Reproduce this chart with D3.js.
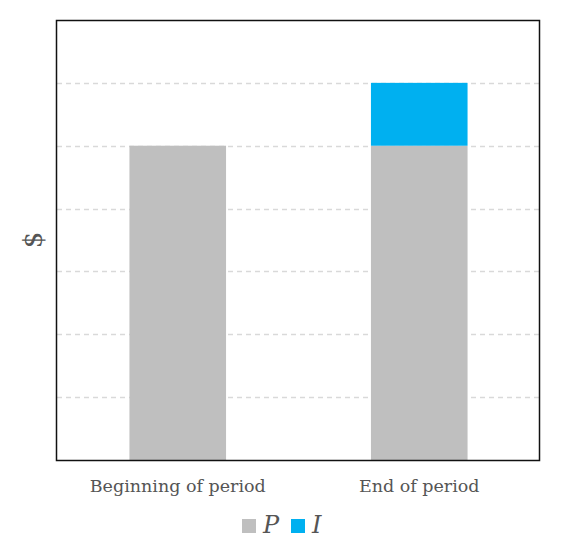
<!DOCTYPE html>
<html>
<head>
<meta charset="utf-8">
<script src="https://cdn.jsdelivr.net/npm/d3@7"></script>
<style>
  body { margin: 0; background: #fff; }
  text { font-family: "DejaVu Serif", Georgia, serif; fill: #555; }
</style>
</head>
<body>
<svg id="chart"></svg>
<script>
// Categories and stacked values (arbitrary units, axis has no tick labels)
const categories = ['Beginning of period', 'End of period'];
const principal = [5, 5];
const interest = [0, 1];
const yTicks = [1, 2, 3, 4, 5, 6];
const seriesNames = ['P', 'I'];
const colors = ['#bfbfbf', '#00b0f0'];

const width = 571, height = 556;
const margin = { top: 20, right: 31, bottom: 96, left: 57 };

const svg = d3.select('#chart')
    .attr('width', width)
    .attr('height', height);

const x = d3.scaleBand()
    .domain(categories)
    .range([margin.left, width - margin.right])
    .paddingInner(0.6)
    .paddingOuter(0.3);

const y = d3.scaleLinear()
    .domain([0, 7])
    .range([height - margin.bottom, margin.top]);

// Gridlines
svg.append('g')
    .selectAll('line')
    .data(yTicks)
    .enter()
    .append('line')
    .attr('x1', margin.left)
    .attr('x2', width - margin.right)
    .attr('y1', d => Math.round(y(d)) + 0.5)
    .attr('y2', d => Math.round(y(d)) + 0.5)
    .attr('stroke', '#d9d9d9')
    .attr('stroke-width', 1.3)
    .attr('stroke-dasharray', '5,4');

// Stacked bars
const rows = categories.map((c, i) => ({ cat: c, P: principal[i], I: interest[i] }));
const stack = d3.stack().keys(seriesNames)(rows);

svg.append('g')
    .selectAll('g')
    .data(stack)
    .enter()
    .append('g')
    .attr('fill', (d, i) => colors[i])
    .selectAll('rect')
    .data(d => d)
    .enter()
    .append('rect')
    .attr('x', d => x(d.data.cat))
    .attr('width', x.bandwidth())
    .attr('y', d => y(d[1]))
    .attr('height', d => y(d[0]) - y(d[1]));

// Frame
svg.append('rect')
    .attr('x', margin.left - 0.5)
    .attr('y', margin.top + 0.5)
    .attr('width', width - margin.left - margin.right)
    .attr('height', height - margin.top - margin.bottom)
    .attr('fill', 'none')
    .attr('stroke', '#111')
    .attr('stroke-width', 1.5);

// X axis labels
const xAxis = d3.axisBottom(x).tickSize(0).tickPadding(20);
const gx = svg.append('g')
    .attr('transform', `translate(0,${height - margin.bottom})`)
    .call(xAxis);
gx.select('.domain').remove();
gx.selectAll('text')
    .style('font-family', '"DejaVu Serif", Georgia, serif')
    .style('font-size', '17.5px')
    .attr('fill', '#555');

// Y axis title
svg.append('text')
    .attr('transform', `translate(42,${(margin.top + height - margin.bottom) / 2}) rotate(-90)`)
    .attr('text-anchor', 'middle')
    .style('font-size', '26px')
    .text('$');

// Legend
const legend = svg.append('g').attr('transform', 'translate(242,519)');
const items = legend.selectAll('g')
    .data(seriesNames)
    .enter()
    .append('g')
    .attr('transform', (d, i) => `translate(${i * 49},0)`);
items.append('rect')
    .attr('width', 14)
    .attr('height', 14)
    .attr('fill', (d, i) => colors[i]);
items.append('text')
    .attr('x', 21)
    .attr('y', 14)
    .style('font-size', '24px')
    .style('font-style', 'italic')
    .text(d => d);
</script>
</body>
</html>
